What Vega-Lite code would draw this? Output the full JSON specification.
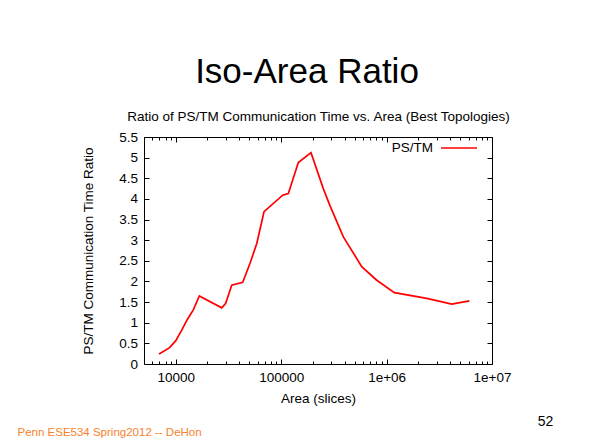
{
  "$schema": "https://vega.github.io/schema/vega-lite/v6.json",
  "width": 348,
  "height": 227,
  "autosize": {"type": "none"},
  "padding": {"left": 144, "top": 137, "right": 112, "bottom": 83},
  "background": "white",
  "config": {
    "font": "Liberation Sans",
    "view": {"stroke": "#000000", "strokeWidth": 1},
    "axis": {
      "grid": false,
      "domain": false,
      "labelFont": "Liberation Sans",
      "labelFontSize": 13.5,
      "labelColor": "#000000",
      "tickColor": "#000000",
      "titleFont": "Liberation Sans",
      "titleFontSize": 13.5,
      "titleFontWeight": "normal",
      "titleColor": "#000000",
      "labelOverlap": false,
      "labelFlush": false,
      "labelBound": false
    }
  },
  "title": {
    "text": "Iso-Area Ratio",
    "font": "Liberation Sans",
    "fontSize": 35,
    "fontWeight": "normal",
    "color": "#000000",
    "anchor": "middle",
    "dx": -11,
    "offset": 20
  },
  "datasets": {
    "ratio": [
      {"area": 6940, "ratio": 0.24, "series": "PS/TM"},
      {"area": 8690, "ratio": 0.39, "series": "PS/TM"},
      {"area": 9980, "ratio": 0.56, "series": "PS/TM"},
      {"area": 11400, "ratio": 0.82, "series": "PS/TM"},
      {"area": 12880, "ratio": 1.08, "series": "PS/TM"},
      {"area": 14680, "ratio": 1.31, "series": "PS/TM"},
      {"area": 16750, "ratio": 1.65, "series": "PS/TM"},
      {"area": 27300, "ratio": 1.36, "series": "PS/TM"},
      {"area": 29800, "ratio": 1.47, "series": "PS/TM"},
      {"area": 33960, "ratio": 1.91, "series": "PS/TM"},
      {"area": 43200, "ratio": 1.98, "series": "PS/TM"},
      {"area": 50700, "ratio": 2.44, "series": "PS/TM"},
      {"area": 58700, "ratio": 2.92, "series": "PS/TM"},
      {"area": 68800, "ratio": 3.69, "series": "PS/TM"},
      {"area": 103400, "ratio": 4.09, "series": "PS/TM"},
      {"area": 117000, "ratio": 4.13, "series": "PS/TM"},
      {"area": 145500, "ratio": 4.88, "series": "PS/TM"},
      {"area": 191900, "ratio": 5.12, "series": "PS/TM"},
      {"area": 251000, "ratio": 4.25, "series": "PS/TM"},
      {"area": 291000, "ratio": 3.83, "series": "PS/TM"},
      {"area": 389000, "ratio": 3.08, "series": "PS/TM"},
      {"area": 581000, "ratio": 2.36, "series": "PS/TM"},
      {"area": 807000, "ratio": 2.03, "series": "PS/TM"},
      {"area": 1186000, "ratio": 1.73, "series": "PS/TM"},
      {"area": 2405000, "ratio": 1.59, "series": "PS/TM"},
      {"area": 4150000, "ratio": 1.45, "series": "PS/TM"},
      {"area": 6100000, "ratio": 1.53, "series": "PS/TM"}
    ]
  },
  "layer": [
    {
      "data": {"name": "ratio"},
      "mark": {"type": "line", "strokeWidth": 1.7},
      "encoding": {
        "x": {
          "field": "area",
          "type": "quantitative",
          "scale": {"type": "log", "domain": [5000, 10000000], "nice": false},
          "axis": {
            "orient": "bottom",
            "values": [6000, 7000, 8000, 9000, 10000, 20000, 30000, 40000, 50000, 60000, 70000, 80000, 90000, 100000, 200000, 300000, 400000, 500000, 600000, 700000, 800000, 900000, 1000000, 2000000, 3000000, 4000000, 5000000, 6000000, 7000000, 8000000, 9000000, 10000000],
            "labelExpr": "datum.value == 10000 ? '10000' : datum.value == 100000 ? '100000' : datum.value == 1000000 ? '1e+06' : datum.value == 10000000 ? '1e+07' : ''",
            "tickSize": {"condition": {"test": "datum.value == 10000 || datum.value == 100000 || datum.value == 1000000 || datum.value == 10000000", "value": -5}, "value": -3},
            "labelPadding": 11,
            "title": "Area (slices)",
            "titlePadding": 6
          }
        },
        "y": {
          "field": "ratio",
          "type": "quantitative",
          "scale": {"domain": [0, 5.5], "nice": false},
          "axis": {
            "orient": "left",
            "values": [0, 0.5, 1, 1.5, 2, 2.5, 3, 3.5, 4, 4.5, 5, 5.5],
            "labelExpr": "'' + datum.value",
            "tickSize": -5,
            "labelPadding": 11.5,
            "title": "PS/TM Communication Time Ratio",
            "titlePadding": 23
          }
        },
        "color": {
          "field": "series",
          "type": "nominal",
          "scale": {"range": ["#ff0000"]},
          "legend": {
            "orient": "none",
            "legendX": 296,
            "legendY": -8,
            "title": null,
            "padding": 0,
            "symbolType": "stroke",
            "symbolSize": 1300,
            "symbolStrokeWidth": 1.7,
            "labelAlign": "right",
            "labelOffset": -45,
            "labelFont": "Liberation Sans",
            "labelFontSize": 13.5,
            "labelColor": "#000000"
          }
        }
      }
    },
    {
      "data": {"name": "ratio"},
      "mark": {"type": "line", "strokeOpacity": 0},
      "encoding": {
        "x": {
          "field": "area",
          "type": "quantitative",
          "scale": {"type": "log", "domain": [5000, 10000000], "nice": false},
          "axis": {
            "orient": "top",
            "values": [6000, 7000, 8000, 9000, 10000, 20000, 30000, 40000, 50000, 60000, 70000, 80000, 90000, 100000, 200000, 300000, 400000, 500000, 600000, 700000, 800000, 900000, 1000000, 2000000, 3000000, 4000000, 5000000, 6000000, 7000000, 8000000, 9000000, 10000000],
            "labels": false,
            "tickSize": {"condition": {"test": "datum.value == 10000 || datum.value == 100000 || datum.value == 1000000 || datum.value == 10000000", "value": -5}, "value": -3},
            "title": "Ratio of PS/TM Communication Time vs. Area (Best Topologies)",
            "titlePadding": 13
          }
        },
        "y": {
          "field": "ratio",
          "type": "quantitative",
          "scale": {"domain": [0, 5.5], "nice": false},
          "axis": {
            "orient": "right",
            "values": [0, 0.5, 1, 1.5, 2, 2.5, 3, 3.5, 4, 4.5, 5, 5.5],
            "labels": false,
            "tickSize": -5,
            "title": null
          }
        }
      }
    },
    {
      "data": {"name": "ratio"},
      "mark": {"type": "line", "strokeOpacity": 0},
      "encoding": {
        "x": {
          "field": "area",
          "type": "quantitative",
          "scale": {"type": "log", "domain": [5000, 10000000], "nice": false},
          "axis": {
            "orient": "bottom",
            "labels": false,
            "ticks": false,
            "title": "Penn ESE534 Spring2012 -- DeHon",
            "titleX": -127,
            "titleY": 71,
            "titleAlign": "left",
            "titleBaseline": "alphabetic",
            "titleColor": "#F7812F",
            "titleFontSize": 11.5
          }
        },
        "y": {
          "field": "ratio",
          "type": "quantitative",
          "scale": {"domain": [0, 5.5], "nice": false},
          "axis": {
            "orient": "right",
            "labels": false,
            "ticks": false,
            "title": "52",
            "titleAngle": 0,
            "titleX": 53,
            "titleY": 288,
            "titleAlign": "center",
            "titleBaseline": "alphabetic",
            "titleFontSize": 14
          }
        }
      }
    }
  ],
  "resolve": {
    "scale": {"x": "independent", "y": "independent"},
    "axis": {"x": "independent", "y": "independent"}
  }
}
